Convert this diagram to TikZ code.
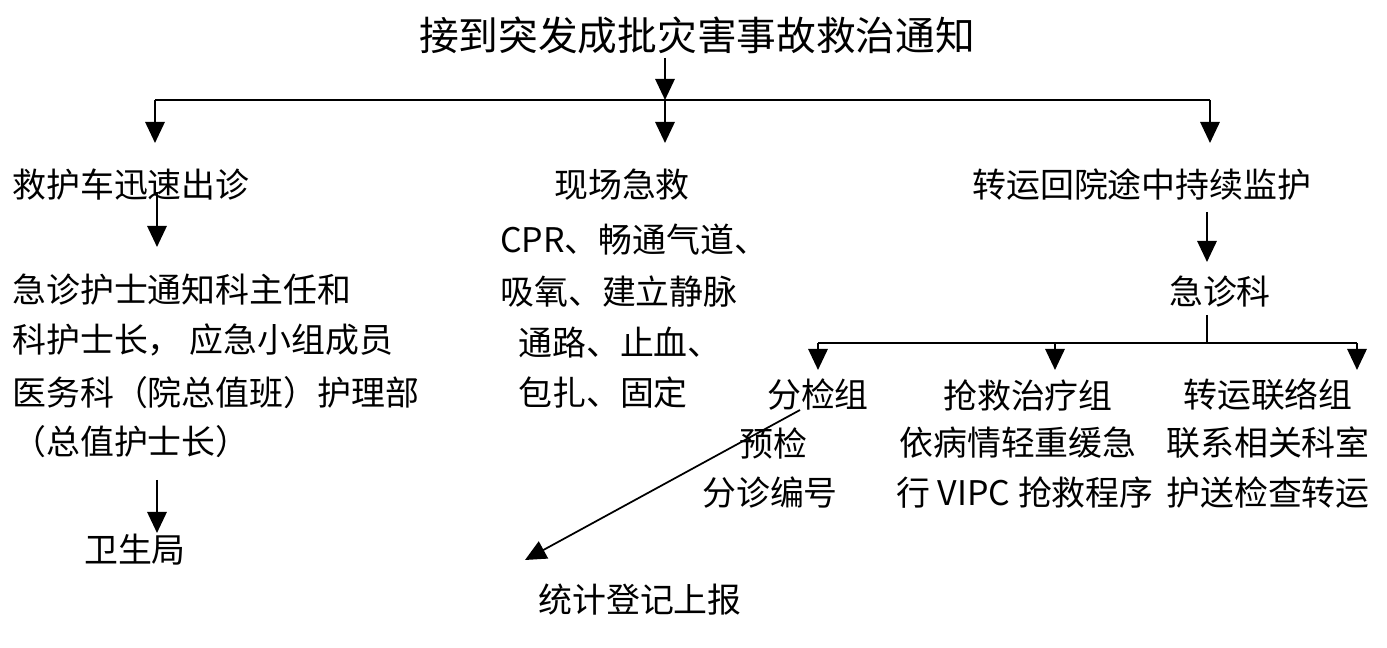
\documentclass[tikz,border=0pt]{standalone}
\usepackage{fontspec}
\setmainfont{Noto Sans CJK SC}
\usetikzlibrary{arrows.meta}
\begin{document}
\begin{tikzpicture}[x=0.02cm,y=-0.02cm,
  t/.style={inner sep=0pt,font=\fontsize{19.3}{22}\selectfont},
  tl/.style={t,anchor=west},
  ar/.style={line width=1.3pt,-{Triangle[width=11pt,length=12pt]}},
  ln/.style={line width=1.3pt}]
\useasboundingbox (0,0) rectangle (1387,648);
\node[inner sep=0pt,font=\fontsize{22.6}{26}\selectfont] (title) at (697,35) {接到突发成批灾害事故救治通知};
\coordinate (t0) at (665,58); \coordinate (t1) at (665,100);
\draw[ar] (t0) -- (t1);
\coordinate (hl) at (155,100); \coordinate (hr) at (1210,100);
\draw[ln] (hl) -- (hr);
\coordinate (a1) at (155,143); \coordinate (a2) at (665,143); \coordinate (a3) at (1210,143);
\draw[ar] (hl) -- (a1); \draw[ar] (t1) -- (a2); \draw[ar] (hr) -- (a3);
\node[tl] (c1) at (12,185) {救护车迅速出诊};
\node[t] (c2) at (622,185) {现场急救};
\node[tl] (c3) at (972,185) {转运回院途中持续监护};
\coordinate (b0) at (157,192); \coordinate (b1) at (157,247);
\draw[ar] (b0) -- (b1);
\node[tl] (l1) at (12,290) {急诊护士通知科主任和};
\node[tl] (l2) at (12,340) {科护士长，\ 应急小组成员};
\node[tl] (l3) at (12,393) {医务科（院总值班）护理部};
\node[tl] (l4) at (12,442) {（总值护士长）};
\coordinate (d0) at (157,480); \coordinate (d1) at (157,533);
\draw[ar] (d0) -- (d1);
\node[t] (wsj) at (135,550) {卫生局};
\node[tl] (m1) at (500,240) {CPR、畅通气道、};
\node[tl] (m2) at (500,292) {吸氧、建立静脉};
\node[tl] (m3) at (518,343) {通路、止血、};
\node[tl] (m4) at (518,393) {包扎、固定};
\coordinate (r0) at (1207,212); \coordinate (r1) at (1207,262);
\draw[ar] (r0) -- (r1);
\node[t] (jzk) at (1220,292) {急诊科};
\coordinate (s0) at (1207,315); \coordinate (s1) at (1207,343);
\draw[ln] (s0) -- (s1);
\coordinate (gl) at (818,343); \coordinate (gm) at (1055,343); \coordinate (gr) at (1357,343);
\draw[ln] (gl) -- (gr);
\draw[ar] (gl) -- (818,370); \draw[ar] (gm) -- (1055,370); \draw[ar] (gr) -- (1357,370);
\node[t] (g1) at (818,395) {分检组};
\node[t] (g2) at (1028,395) {抢救治疗组};
\node[t] (g3) at (1268,395) {转运联络组};
\node[t] (g1a) at (773,443) {预检};
\node[t] (g1b) at (770,493) {分诊编号};
\node[t] (g2a) at (1018,443) {依病情轻重缓急};
\node[t] (g2b) at (1025,493) {行 VIPC 抢救程序};
\node[t] (g3a) at (1268,443) {联系相关科室};
\node[t] (g3b) at (1268,493) {护送检查转运};
\node[t] (tj) at (640,600) {统计登记上报};
\coordinate (x0) at (800,410); \coordinate (x1) at (525,560);
\draw[line width=1pt,-{Triangle[width=11pt,length=12pt]}] (x0) -- (x1);
\end{tikzpicture}
\end{document}
